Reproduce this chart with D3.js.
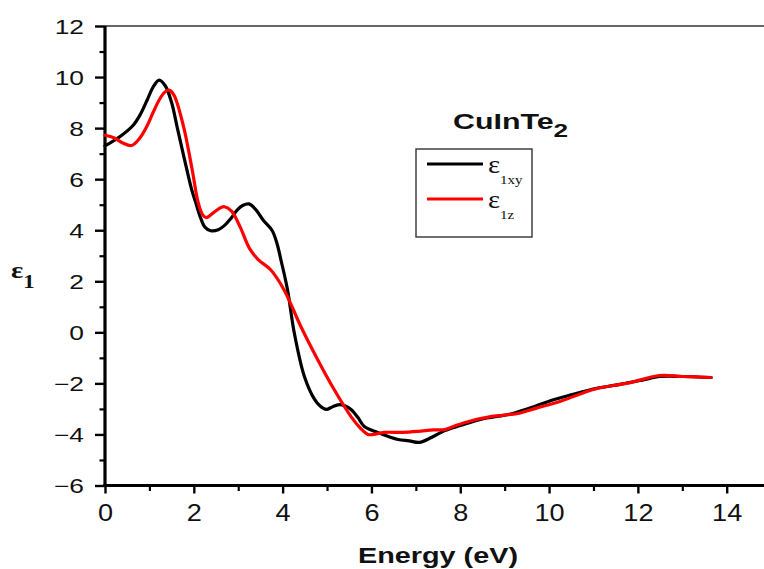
<!DOCTYPE html>
<html>
<head>
<meta charset="utf-8">
<script src="https://cdn.jsdelivr.net/npm/d3@7/dist/d3.min.js"></script>
<style>
  html, body { margin: 0; padding: 0; background: #fff; }
  svg { display: block; }
</style>
</head>
<body>
<script>
// Real part of the dielectric function of CuInTe2 (in-plane and out-of-plane)
const energyXY = [0, 0.34, 0.63, 0.8, 0.95, 1.08, 1.22, 1.36, 1.5, 1.63, 1.8, 1.95, 2.04, 2.15, 2.25, 2.38, 2.55, 2.7, 2.83, 2.98, 3.1, 3.24, 3.4, 3.56, 3.76, 3.87, 3.96, 4.11, 4.26, 4.49, 4.72, 4.85, 4.98, 5.12, 5.27, 5.4, 5.54, 5.7, 5.84, 6.14, 6.6, 6.85, 7.08, 7.35, 7.65, 8.0, 8.48, 9.0, 9.24, 9.6, 10.0, 10.5, 11.05, 11.5, 12.1, 12.5, 13.0, 13.65];
const eps1xy   = [7.3, 7.67, 8.1, 8.55, 9.1, 9.6, 9.88, 9.65, 9.0, 8.0, 6.7, 5.6, 5.1, 4.5, 4.12, 3.98, 4.02, 4.2, 4.45, 4.8, 4.97, 5.03, 4.8, 4.4, 4.0, 3.5, 2.85, 1.67, 0.0, -1.73, -2.63, -2.9, -3.02, -2.92, -2.83, -2.88, -3.02, -3.35, -3.69, -3.92, -4.2, -4.25, -4.31, -4.12, -3.85, -3.65, -3.4, -3.25, -3.15, -2.95, -2.7, -2.45, -2.2, -2.07, -1.87, -1.73, -1.73, -1.77];

const energyZ = [0, 0.2, 0.4, 0.6, 0.78, 0.94, 1.08, 1.22, 1.34, 1.44, 1.55, 1.77, 1.96, 2.1, 2.2, 2.28, 2.45, 2.6, 2.69, 2.85, 3.05, 3.25, 3.45, 3.73, 4.03, 4.41, 4.79, 5.16, 5.54, 5.75, 5.92, 6.05, 6.29, 6.7, 7.05, 7.4, 7.65, 7.9, 8.19, 8.6, 8.94, 9.3, 9.7, 10.29, 11.04, 11.8, 12.49, 13.0, 13.65];
const eps1z   = [7.72, 7.62, 7.42, 7.32, 7.6, 8.06, 8.6, 9.1, 9.4, 9.49, 9.3, 8.05, 6.4, 5.07, 4.6, 4.49, 4.7, 4.88, 4.92, 4.75, 4.1, 3.3, 2.85, 2.45, 1.67, 0.23, -1.07, -2.24, -3.3, -3.75, -4.0, -4.0, -3.92, -3.92, -3.88, -3.82, -3.81, -3.65, -3.49, -3.33, -3.25, -3.18, -2.98, -2.68, -2.22, -1.98, -1.69, -1.73, -1.77];

const xTicks = [0, 2, 4, 6, 8, 10, 12, 14];
const xMinorTicks = [1, 3, 5, 7, 9, 11, 13];
const yTicks = [-6, -4, -2, 0, 2, 4, 6, 8, 10, 12];
const yMinorTicks = [-5, -3, -1, 1, 3, 5, 7, 9, 11];

const W = 764, H = 569;
const SANS = "'Liberation Sans', Arial, Helvetica, sans-serif";
const SERIF = "'Liberation Serif', 'Times New Roman', serif";

const svg = d3.select("body").append("svg").attr("width", W).attr("height", H);

const x = d3.scaleLinear().domain([0, 14.84]).range([105, 764]);
const y = d3.scaleLinear().domain([-6, 12]).range([485.5, 26]);

// top frame line
svg.append("line")
  .attr("x1", 105).attr("x2", W).attr("y1", y(12)).attr("y2", y(12))
  .attr("stroke", "#333").attr("stroke-width", 1.3);

// minor ticks
svg.append("g").attr("transform", `translate(0,${y(-6)})`)
  .call(d3.axisBottom(x).tickValues(xMinorTicks).tickSize(5.5).tickFormat(""))
  .call(g => g.select(".domain").remove())
  .call(g => g.selectAll("line").attr("stroke", "#000").attr("stroke-width", 2.2));
svg.append("g").attr("transform", `translate(${x(0)},0)`)
  .call(d3.axisLeft(y).tickValues(yMinorTicks).tickSize(5.5).tickFormat(""))
  .call(g => g.select(".domain").remove())
  .call(g => g.selectAll("line").attr("stroke", "#000").attr("stroke-width", 2.2));

// major x axis
const xsx = 1.13;
svg.append("g").attr("transform", `translate(0,${y(-6)})`)
  .call(d3.axisBottom(x).tickValues(xTicks).tickSize(8).tickPadding(10).tickFormat(d3.format("d")))
  .call(g => g.select(".domain").remove())
  .call(g => g.selectAll("line").attr("stroke", "#000").attr("stroke-width", 2.4))
  .call(g => g.selectAll("text")
    .attr("fill", "#111")
    .style("font-family", SANS).style("font-size", "24px")
    .attr("transform", `scale(${xsx},1)`));

// major y axis
const ysx = 1.32;
svg.append("g").attr("transform", `translate(${x(0)},0)`)
  .call(d3.axisLeft(y).tickValues(yTicks).tickSize(10).tickFormat(d3.format("d")))
  .call(g => g.select(".domain").remove())
  .call(g => g.selectAll("line").attr("stroke", "#000").attr("stroke-width", 2.4))
  .call(g => g.selectAll("text")
    .attr("fill", "#111")
    .attr("x", -21 / ysx)
    .attr("dy", "0.35em")
    .style("font-family", SANS).style("font-size", "20px")
    .attr("transform", `scale(${ysx},1)`));

// thick axis lines
svg.append("line")
  .attr("x1", x(0)).attr("x2", x(0)).attr("y1", y(12)).attr("y2", y(-6) + 1.5)
  .attr("stroke", "#000").attr("stroke-width", 3.2);
svg.append("line")
  .attr("x1", x(0) - 1.6).attr("x2", W).attr("y1", y(-6)).attr("y2", y(-6))
  .attr("stroke", "#000").attr("stroke-width", 3.2);

// curves
const line = d3.line()
  .x(d => x(d[0])).y(d => y(d[1]))
  .curve(d3.curveCatmullRom.alpha(0.5));

const seriesXY = energyXY.map((e, i) => [e, eps1xy[i]]);
const seriesZ = energyZ.map((e, i) => [e, eps1z[i]]);

svg.append("path").datum(seriesXY)
  .attr("d", line).attr("fill", "none")
  .attr("stroke", "#000").attr("stroke-width", 3.2)
  .attr("stroke-linejoin", "round").attr("stroke-linecap", "round");
svg.append("path").datum(seriesZ)
  .attr("d", line).attr("fill", "none")
  .attr("stroke", "#ff0000").attr("stroke-width", 3.2)
  .attr("stroke-linejoin", "round").attr("stroke-linecap", "round");

// axis titles
const xTitle = svg.append("g").attr("transform", `translate(438,563) scale(1.34,1)`);
xTitle.append("text")
  .attr("text-anchor", "middle")
  .style("font-family", SANS).style("font-size", "21.5px").style("font-weight", "bold")
  .attr("fill", "#111")
  .text("Energy (eV)");

const yTitle = svg.append("g").attr("transform", `translate(11,278) scale(1.2,1)`);
const yt = yTitle.append("text")
  .style("font-family", SERIF).style("font-weight", "bold").attr("fill", "#111");
yt.append("tspan").style("font-size", "24px").text("ε");
yt.append("tspan").style("font-size", "19px").attr("dy", 10).text("1");

// compound title
const title = svg.append("g").attr("transform", `translate(453,129) scale(1.38,1)`);
const tt = title.append("text")
  .style("font-family", SANS).style("font-weight", "bold").attr("fill", "#111");
tt.append("tspan").style("font-size", "22px").text("CuInTe");
tt.append("tspan").style("font-size", "19px").attr("dy", 8).text("2");

// legend
const legend = svg.append("g");
legend.append("rect")
  .attr("x", 416).attr("y", 149).attr("width", 116).attr("height", 88)
  .attr("fill", "#fff").attr("stroke", "#333").attr("stroke-width", 1.4);

const legendItems = [
  { color: "#000", sub: "1xy", y: 164 },
  { color: "#ff0000", sub: "1z", y: 199 }
];
legendItems.forEach(it => {
  legend.append("line")
    .attr("x1", 427).attr("x2", 483).attr("y1", it.y).attr("y2", it.y)
    .attr("stroke", it.color).attr("stroke-width", 3.2);
  const g = legend.append("g").attr("transform", `translate(488,${it.y + 9}) scale(1.15,1)`);
  const t = g.append("text").style("font-family", SERIF).attr("fill", "#111");
  t.append("tspan").style("font-size", "25px").text("ε");
  t.append("tspan").style("font-size", "13px").attr("dy", 11).text(it.sub);
});
</script>
</body>
</html>
